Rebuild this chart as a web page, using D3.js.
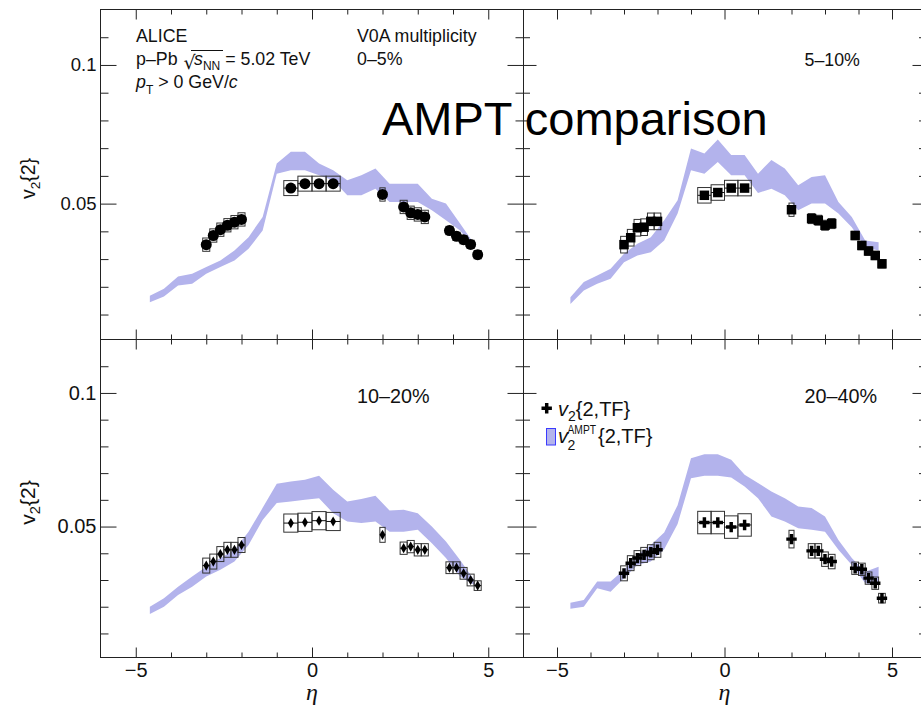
<!DOCTYPE html>
<meta charset="utf-8">
<script src="https://d3js.org/d3.v7.min.js"></script>
<style>
  body { margin: 0; background: #fff; }
  text { font-family: "Liberation Sans", Arial, Helvetica, sans-serif; fill: #111; }
</style>
<div id="chart"></div>
<script>

// eta of the measured points and width of their systematic boxes
const etaPts = [-3.0, -2.8, -2.6, -2.4, -2.2, -2.0, -0.6, -0.2, 0.2, 0.6, 2.0, 2.6, 2.8, 3.0, 3.2, 3.9, 4.1, 4.3, 4.5, 4.7];
const boxW   = [0.2, 0.2, 0.2, 0.2, 0.2, 0.2, 0.4, 0.4, 0.4, 0.4, 0.15, 0.2, 0.2, 0.2, 0.2, 0.2, 0.2, 0.2, 0.2, 0.2];
// eta grid of the AMPT band
const etaBand = [-4.6, -4.2, -3.8, -3.4, -3.0, -2.6, -2.2, -1.8, -1.4, -1.0, -0.6, -0.2, 0.2, 0.6, 1.0, 1.4, 1.8, 2.2, 2.6, 3.0, 3.4, 3.8, 4.2, 4.6];

// 0-5%
const v2_0_5  = [0.0352, 0.0385, 0.0406, 0.0422, 0.0433, 0.0443, 0.0556, 0.0572, 0.0572, 0.0572, 0.0533, 0.0488, 0.0467, 0.0461, 0.0452, 0.0403, 0.0382, 0.0370, 0.0353, 0.0316];
const sys_0_5 = [0.0024, 0.0024, 0.0024, 0.0024, 0.0024, 0.0024, 0.0027, 0.0027, 0.0027, 0.0027, 0.0024, 0.0024, 0.0024, 0.0024, 0.0024, 0.0015, 0.0015, 0.0015, 0.0015, 0.0015];
const amptHi_0_5 = [0.0168, 0.0193, 0.0237, 0.0247, 0.0271, 0.0295, 0.0331, 0.0379, 0.0452, 0.0645, 0.0687, 0.0687, 0.0645, 0.0620, 0.0584, 0.0602, 0.0627, 0.0572, 0.0572, 0.0572, 0.0518, 0.0500, 0.0428, 0.0355];
const amptLo_0_5 = [0.0144, 0.0165, 0.0205, 0.0211, 0.0247, 0.0271, 0.0295, 0.0337, 0.0403, 0.0608, 0.0620, 0.0620, 0.0602, 0.0584, 0.0530, 0.0530, 0.0554, 0.0506, 0.0506, 0.0506, 0.0476, 0.0440, 0.0403, 0.0343];

// 5-10%
const v2_5_10  = [0.0352, 0.0377, 0.0413, 0.0415, 0.0436, 0.0436, 0.0530, 0.0540, 0.0556, 0.0556, 0.0478, 0.0446, 0.0440, 0.0422, 0.0428, 0.0385, 0.0349, 0.0329, 0.0313, 0.0283];
const sys_5_10 = [0.0030, 0.0030, 0.0030, 0.0030, 0.0030, 0.0030, 0.0028, 0.0028, 0.0028, 0.0028, 0.0024, 0.0018, 0.0018, 0.0018, 0.0018, 0.0015, 0.0015, 0.0015, 0.0015, 0.0015];
const amptHi_5_10 = [0.0162, 0.0217, 0.0241, 0.0265, 0.0319, 0.0355, 0.0379, 0.0440, 0.0512, 0.0699, 0.0681, 0.0731, 0.0675, 0.0675, 0.0608, 0.0657, 0.0627, 0.0566, 0.0596, 0.0602, 0.0506, 0.0452, 0.0367, 0.0361];
const amptLo_5_10 = [0.0138, 0.0187, 0.0211, 0.0229, 0.0289, 0.0313, 0.0325, 0.0367, 0.0464, 0.0620, 0.0608, 0.0650, 0.0602, 0.0602, 0.0538, 0.0554, 0.0530, 0.0476, 0.0500, 0.0500, 0.0464, 0.0415, 0.0343, 0.0331];

// 10-20%
const v2_10_20  = [0.0354, 0.0369, 0.0397, 0.0413, 0.0413, 0.0431, 0.0513, 0.0516, 0.0522, 0.0519, 0.0469, 0.0419, 0.0425, 0.0413, 0.0413, 0.0346, 0.0346, 0.0325, 0.0300, 0.0279];
const sys_10_20 = [0.0028, 0.0028, 0.0028, 0.0028, 0.0028, 0.0028, 0.0034, 0.0034, 0.0034, 0.0034, 0.0028, 0.0023, 0.0023, 0.0023, 0.0023, 0.0022, 0.0022, 0.0022, 0.0022, 0.0018];
const amptHi_10_20 = [0.0200, 0.0232, 0.0275, 0.0313, 0.0350, 0.0382, 0.0413, 0.0481, 0.0570, 0.0660, 0.0669, 0.0675, 0.0690, 0.0638, 0.0594, 0.0603, 0.0615, 0.0560, 0.0563, 0.0550, 0.0500, 0.0444, 0.0375, 0.0300];
const amptLo_10_20 = [0.0173, 0.0200, 0.0244, 0.0275, 0.0313, 0.0338, 0.0369, 0.0431, 0.0525, 0.0588, 0.0594, 0.0600, 0.0606, 0.0550, 0.0519, 0.0513, 0.0519, 0.0481, 0.0481, 0.0488, 0.0438, 0.0382, 0.0313, 0.0281];

// 20-40%
const v2_20_40  = [0.0325, 0.0363, 0.0382, 0.0394, 0.0404, 0.0413, 0.0515, 0.0515, 0.0498, 0.0506, 0.0453, 0.0409, 0.0409, 0.0378, 0.0369, 0.0344, 0.0340, 0.0307, 0.0288, 0.0232];
const sys_20_40 = [0.0028, 0.0028, 0.0028, 0.0028, 0.0028, 0.0028, 0.0042, 0.0042, 0.0042, 0.0042, 0.0033, 0.0027, 0.0027, 0.0027, 0.0027, 0.0023, 0.0023, 0.0023, 0.0023, 0.0018];
const amptHi_20_40 = [0.0215, 0.0225, 0.0294, 0.0294, 0.0338, 0.0394, 0.0431, 0.0478, 0.0580, 0.0756, 0.0771, 0.0771, 0.0750, 0.0694, 0.0663, 0.0631, 0.0606, 0.0575, 0.0569, 0.0538, 0.0450, 0.0382, 0.0331, 0.0350];
const amptLo_20_40 = [0.0192, 0.0200, 0.0269, 0.0256, 0.0307, 0.0356, 0.0369, 0.0415, 0.0510, 0.0681, 0.0690, 0.0690, 0.0684, 0.0650, 0.0606, 0.0538, 0.0519, 0.0494, 0.0488, 0.0481, 0.0413, 0.0356, 0.0288, 0.0281];

// axes
const etaDomain = [-6, 6];
const v2Domain = [0.001, 0.12];
const xMajor = [-5, 0, 5];
const xMinor = [-4, -3, -2, -1, 1, 2, 3, 4];
const yMajor = [0.05, 0.1];
const yMinor = [0.01, 0.02, 0.03, 0.04, 0.06, 0.07, 0.08, 0.09, 0.11];

const bandColor = "#b3b3ec";

var svg = d3.select("#chart").append("svg")
  .attr("width", 921)
  .attr("height", 707);

const pads = [
  {v2: v2_0_5, sys: sys_0_5, lo: amptLo_0_5, hi: amptHi_0_5, sym: d3.symbolCircle, size: 95,
   xr: [100.5, 523.5], yr: [339.5, 9.5], left: true, bottom: false, tl: 16, font: 18.5},
  {v2: v2_5_10, sys: sys_5_10, lo: amptLo_5_10, hi: amptHi_5_10, sym: d3.symbolSquare, size: 90,
   xr: [523.5, 925.5], yr: [339.5, 9.5], left: false, bottom: false, tl: 13, font: 18.5},
  {v2: v2_10_20, sys: sys_10_20, lo: amptLo_10_20, hi: amptHi_10_20, sym: d3.symbolDiamond, size: 30,
   xr: [100.5, 523.5], yr: [657.5, 339.5], left: true, bottom: true, tl: 16, font: 20},
  {v2: v2_20_40, sys: sys_20_40, lo: amptLo_20_40, hi: amptHi_20_40, sym: d3.symbolCross, size: 60,
   xr: [523.5, 925.5], yr: [657.5, 339.5], left: false, bottom: true, tl: 13, font: 20}
];

pads.forEach(function(p) {
  var x = d3.scaleLinear().domain(etaDomain).range(p.xr);
  var y = d3.scaleLinear().domain(v2Domain).range(p.yr);
  var g = svg.append("g");

  // AMPT band
  var band = etaBand.map((e, i) => ({e: e, lo: p.lo[i], hi: p.hi[i]}));
  g.append("path")
    .datum(band)
    .attr("fill", bandColor)
    .attr("d", d3.area()
      .x(d => x(d.e))
      .y0(d => y(d.lo))
      .y1(d => y(d.hi)));

  var pts = etaPts.map((e, i) => ({e: e, w: boxW[i], v: p.v2[i], s: p.sys[i]}));

  // systematic boxes
  g.selectAll("rect.sys")
    .data(pts)
    .join("rect")
      .attr("class", "sys")
      .attr("x", d => x(d.e - d.w / 2))
      .attr("width", d => x(d.e + d.w / 2) - x(d.e - d.w / 2))
      .attr("y", d => y(d.v + d.s))
      .attr("height", d => y(d.v - d.s) - y(d.v + d.s))
      .attr("fill", "none")
      .attr("stroke", "#333")
      .attr("stroke-width", 1);

  // horizontal bars (bin width)
  g.selectAll("line.xerr")
    .data(pts)
    .join("line")
      .attr("class", "xerr")
      .attr("x1", d => x(d.e - d.w / 2))
      .attr("x2", d => x(d.e + d.w / 2))
      .attr("y1", d => y(d.v))
      .attr("y2", d => y(d.v))
      .attr("stroke", "#111");

  // markers
  g.selectAll("path.mk")
    .data(pts)
    .join("path")
      .attr("class", "mk")
      .attr("transform", d => `translate(${x(d.e)},${y(d.v)})`)
      .attr("d", d3.symbol().type(p.sym).size(p.size))
      .attr("fill", "#000");

  // axes, ticks pointing inwards
  const yb = p.yr[0], yt = p.yr[1], xl = p.xr[0], xrt = p.xr[1];
  const axes = [
    [d3.axisBottom(x).tickValues(xMajor).tickSize(-10).tickPadding(5)
       .tickFormat(p.bottom ? d3.format("d") : ""), `translate(0,${yb})`],
    [d3.axisBottom(x).tickValues(xMinor).tickSize(-5).tickFormat(""), `translate(0,${yb})`],
    [d3.axisTop(x).tickValues(xMajor).tickSize(-10).tickFormat(""), `translate(0,${yt})`],
    [d3.axisTop(x).tickValues(xMinor).tickSize(-5).tickFormat(""), `translate(0,${yt})`],
    [d3.axisLeft(y).tickValues(yMajor).tickSize(-p.tl).tickPadding(4)
       .tickFormat(p.left ? d3.format("~g") : ""), `translate(${xl},0)`],
    [d3.axisLeft(y).tickValues(yMinor).tickSize(-p.tl / 2).tickFormat(""), `translate(${xl},0)`],
    [d3.axisRight(y).tickValues(yMajor).tickSize(-p.tl).tickFormat(""), `translate(${xrt},0)`],
    [d3.axisRight(y).tickValues(yMinor).tickSize(-p.tl / 2).tickFormat(""), `translate(${xrt},0)`]
  ];
  axes.forEach(function(a) {
    var ag = g.append("g").attr("transform", a[1]).call(a[0]);
    ag.attr("font-size", p.font)
      .attr("font-family", '"Liberation Sans", Arial, sans-serif')
      .attr("color", "#222");
    ag.select(".domain").remove();
  });

  g.append("rect")
    .attr("x", xl).attr("y", yt)
    .attr("width", xrt - xl).attr("height", yb - yt)
    .attr("fill", "none")
    .attr("stroke", "#222");

  // axis titles
  if (p.left) {
    var cy = (yb + yt) / 2 + 4;
    var t = svg.append("text")
      .attr("transform", `translate(35,${cy}) rotate(-90)`)
      .attr("text-anchor", "middle")
      .attr("font-size", p.bottom ? 21 : 19.5);
    t.append("tspan").text("v");
    t.append("tspan").attr("dy", 5).attr("font-size", "70%").text("2");
    t.append("tspan").attr("dy", -5).text("{2}");
  }
  if (p.bottom) {
    svg.append("text")
      .attr("x", x(0)).attr("y", 700)
      .attr("text-anchor", "middle")
      .attr("font-size", 24)
      .attr("font-style", "italic")
      .style("font-family", '"Liberation Serif", "DejaVu Serif", serif')
      .text("η");
  }
});

// centrality labels
svg.append("text").attr("x", 357).attr("y", 65).attr("font-size", 17.8).text("0–5%");
svg.append("text").attr("x", 804.5).attr("y", 65.5).attr("font-size", 17.8).text("5–10%");
svg.append("text").attr("x", 357).attr("y", 403).attr("font-size", 19.8).text("10–20%");
svg.append("text").attr("x", 804.5).attr("y", 403).attr("font-size", 19.8).text("20–40%");

// ALICE block
svg.append("text").attr("x", 136).attr("y", 41.7).attr("font-size", 17.8).text("ALICE");
svg.append("text").attr("x", 357).attr("y", 41.7).attr("font-size", 17.8).text("V0A multiplicity");
svg.append("text").attr("x", 136).attr("y", 65).attr("font-size", 17.8).text("p–Pb");
svg.append("text").attr("x", 183.5).attr("y", 69).attr("font-size", 19)
  .style("font-family", '"DejaVu Sans", sans-serif').text("√");
svg.append("line").attr("x1", 191).attr("x2", 223).attr("y1", 50.5).attr("y2", 50.5)
  .attr("stroke", "#111").attr("stroke-width", 1);
var sq = svg.append("text").attr("x", 194).attr("y", 65).attr("font-size", 17.8);
sq.append("tspan").attr("font-style", "italic").text("s");
sq.append("tspan").attr("dy", 4.5).attr("font-size", 12).text("NN");
sq.append("tspan").attr("dy", -4.5).text(" = 5.02 TeV");
var pt = svg.append("text").attr("x", 136).attr("y", 87.5).attr("font-size", 17.8);
pt.append("tspan").attr("font-style", "italic").text("p");
pt.append("tspan").attr("dy", 6).attr("font-size", 12).text("T");
pt.append("tspan").attr("dy", -6).text(" > 0 GeV/");
pt.append("tspan").attr("font-style", "italic").text("c");

// legend
svg.append("path")
  .attr("transform", "translate(546.7,408.3)")
  .attr("d", d3.symbol().type(d3.symbolCross).size(60))
  .attr("fill", "#000");
var l1 = svg.append("text").attr("x", 558).attr("y", 416).attr("font-size", 20);
l1.append("tspan").attr("font-style", "italic").text("v");
l1.append("tspan").attr("dy", 5).attr("font-size", 14).text("2");
l1.append("tspan").attr("dy", -5).text("{2,TF}");
svg.append("rect")
  .attr("x", 546.5).attr("y", 428.5).attr("width", 9).attr("height", 16.5)
  .attr("fill", bandColor).attr("stroke", "#3a3aff");
svg.append("text").attr("x", 558).attr("y", 443).attr("font-size", 20)
  .attr("font-style", "italic").text("v");
svg.append("text").attr("x", 567.5).attr("y", 434).attr("font-size", 12)
  .attr("textLength", 28.5).attr("lengthAdjust", "spacingAndGlyphs").text("AMPT");
svg.append("text").attr("x", 567.5).attr("y", 450).attr("font-size", 14).text("2");
svg.append("text").attr("x", 598).attr("y", 443).attr("font-size", 20).text("{2,TF}");

// overlay title
svg.append("text")
  .attr("x", 382).attr("y", 135)
  .attr("font-size", 47)
  .style("fill", "#000")
  .text("AMPT comparison");

</script>
